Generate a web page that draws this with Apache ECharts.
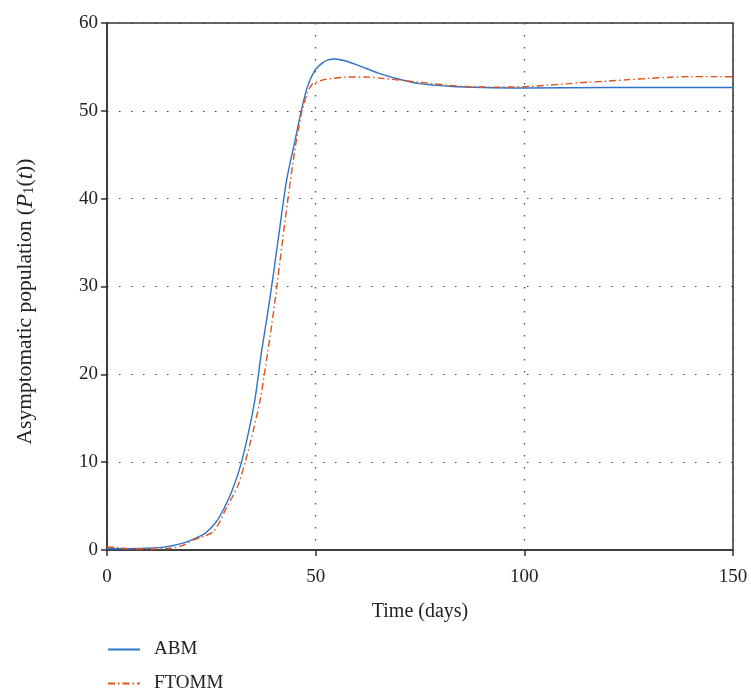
<!DOCTYPE html>
<html>
<head>
<meta charset="utf-8">
<script src="https://cdn.jsdelivr.net/npm/echarts@6/dist/echarts.min.js"></script>
<style>html,body{margin:0;padding:0;background:#fff;}#c{width:751px;height:693px;}</style>
</head>
<body>
<div id="c"></div>
<script>
const xTicks = [0, 50, 100, 150];
const yTicks = [0, 10, 20, 30, 40, 50, 60];
const seriesNames = ['ABM', 'FTOMM'];
const abmT = [0, 5, 10, 14, 17.5, 20, 23.5, 26, 28, 30, 32, 34, 35.5, 37, 39, 41, 43, 45, 46.6, 48, 49.8, 51.5, 53, 54.6, 57, 60, 65, 70, 75, 82, 90, 100, 120, 150];
const abmV = [0.15, 0.15, 0.2, 0.35, 0.7, 1.1, 1.9, 3.1, 4.7, 6.8, 9.6, 13.6, 17.3, 22.5, 28.5, 35.3, 42, 46.5, 50.1, 52.7, 54.6, 55.4, 55.8, 55.9, 55.7, 55.2, 54.3, 53.6, 53.1, 52.8, 52.65, 52.6, 52.65, 52.65];
const ftT = [0, 2, 5, 10, 15, 18, 21, 23.5, 25.5, 27, 28.7, 30, 31.5, 33.1, 35, 36.7, 38.5, 40.3, 42, 43.4, 45, 46.6, 48, 49.1, 50.5, 52, 54.2, 58, 62, 66, 70, 74, 78, 82, 87, 92.6, 97, 100.6, 105, 110, 115, 120.5, 125, 130, 135, 140, 145, 150];
const ftV = [0.35, 0.3, 0.15, 0.1, 0.2, 0.5, 1.2, 1.6, 2.1, 3.2, 4.9, 6.0, 7.5, 10, 13.5, 17.1, 22.5, 28.5, 35, 40.1, 45.5, 49.7, 52.0, 53.0, 53.3, 53.55, 53.7, 53.85, 53.85, 53.7, 53.5, 53.3, 53.1, 52.9, 52.75, 52.7, 52.72, 52.77, 52.9, 53.07, 53.25, 53.4, 53.55, 53.7, 53.82, 53.9, 53.9, 53.87];

const FONT = 'Liberation Serif';
const chart = echarts.init(document.getElementById('c'), null, {renderer: 'canvas'});
const gridLine = {show: true, lineStyle: {type: [1.5, 10.5], color: '#444', width: 1.2}};
function legendAt(name, top) {
  return {
    orient: 'vertical', left: 107, top: top, padding: 0, itemWidth: 32, itemHeight: 14,
    itemStyle: {opacity: 0},
    textStyle: {fontFamily: FONT, fontSize: 19, color: '#222', padding: [0, 0, 0, 9]},
    data: [name]
  };
}
chart.setOption({
  animation: false,
  backgroundColor: '#fff',
  grid: {left: 107, top: 23, right: 18, bottom: 143, show: true, borderColor: '#333', borderWidth: 1.5, backgroundColor: 'transparent'},
  legend: [legendAt(seriesNames[0], 640), legendAt(seriesNames[1], 674)],
  xAxis: {
    type: 'value', min: xTicks[0], max: xTicks[xTicks.length - 1], interval: 50,
    name: 'Time (days)', nameLocation: 'middle', nameGap: 52,
    nameTextStyle: {fontFamily: FONT, fontSize: 20, color: '#222'},
    axisLine: {show: true, onZero: false, lineStyle: {color: '#333', width: 1.5}},
    axisTick: {show: true, inside: false, length: 6, lineStyle: {color: '#333', width: 1.5}},
    axisLabel: {fontFamily: FONT, fontSize: 19, color: '#222', margin: 18},
    splitLine: gridLine
  },
  yAxis: {
    type: 'value', min: yTicks[0], max: yTicks[yTicks.length - 1], interval: 10,
    name: '{t|Asymptomatic population (}{i|P}{s|1}{t|(}{i|t}{t|))}', nameLocation: 'middle', nameGap: 70,
    nameTextStyle: {
      fontFamily: FONT, fontSize: 21, color: '#222', padding: [0, 30, 0, 0],
      rich: {
        t: {fontFamily: FONT, fontSize: 21.5, color: '#222'},
        i: {fontFamily: FONT, fontSize: 23, fontStyle: 'italic', color: '#222'},
        s: {fontFamily: FONT, fontSize: 15, color: '#222', padding: [8, 0, 0, 0]}
      }
    },
    axisLine: {show: true, lineStyle: {color: '#333', width: 1.5}},
    axisTick: {show: true, inside: false, length: 6, lineStyle: {color: '#333', width: 1.5}},
    axisLabel: {fontFamily: FONT, fontSize: 19, color: '#222', margin: 9},
    splitLine: gridLine
  },
  series: [
    {name: seriesNames[0], type: 'line', showSymbol: false, symbol: 'none', smooth: 0.3,
     data: abmT.map((t, i) => [t, abmV[i]]),
     lineStyle: {color: '#2e74c6', width: 1.4}, itemStyle: {color: '#2e74c6'}},
    {name: seriesNames[1], type: 'line', showSymbol: false, symbol: 'none', smooth: 0.3,
     data: ftT.map((t, i) => [t, ftV[i]]),
     lineStyle: {color: '#e2521c', width: 1.4, type: [7, 3, 1.5, 3]}, itemStyle: {color: '#e2521c'}}
  ]
});
</script>
</body>
</html>
